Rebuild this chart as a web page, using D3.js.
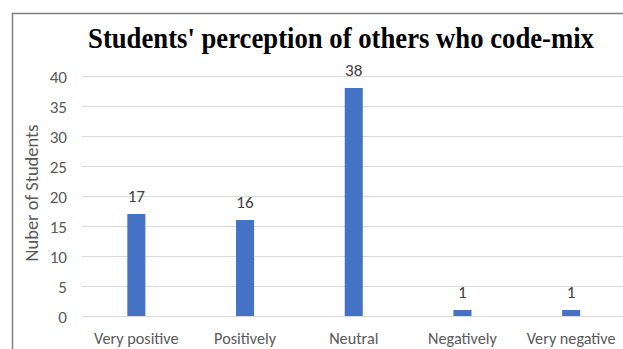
<!DOCTYPE html>
<html><head><meta charset="utf-8">
<script src="https://cdn.jsdelivr.net/npm/d3@7"></script>
<style>body{margin:0;background:#fff}svg{display:block}</style>
</head><body>
<script>
const categories = ["Very positive","Positively","Neutral","Negatively","Very negative"];
const values = [17,16,38,1,1];
const yTicks = [0,5,10,15,20,25,30,35,40];
const title = "Students' perception of others who code-mix";
const yLabel = "Nuber of Students";

const W=623,H=349;
const SANS="Carlito, Calibri, 'Liberation Sans', sans-serif";
const svg=d3.select("body").append("svg").attr("width",W).attr("height",H);
// frame
svg.append("path").attr("d",`M12.5,${H} V13.5 H${W}`).attr("fill","none").attr("stroke","#7f7f7f").attr("stroke-width",1.5);

const x=d3.scaleBand().domain(categories).range([82,625.5]).paddingInner(0.834).paddingOuter(0.417);
const y=d3.scaleLinear().domain([0,40]).range([316,76]);

// fit font size to a target width
function fit(sel, base, targetW){
  sel.attr("font-size",base);
  const w=sel.node().getComputedTextLength();
  if(w>0) sel.attr("font-size",base*targetW/w);
}

// grid
svg.append("g").selectAll("line").data(yTicks).join("line")
 .attr("x1",82).attr("x2",W).attr("y1",d=>Math.round(y(d))+0.5).attr("y2",d=>Math.round(y(d))+0.5)
 .attr("stroke","#d9d9d9").attr("stroke-width",1);

// y axis labels
const yAxis=d3.axisLeft(y).tickValues(yTicks).tickSize(0).tickPadding(0);
const gy=svg.append("g").attr("transform","translate(67,0)").call(yAxis);
gy.select(".domain").remove();
gy.selectAll("text").attr("font-family",SANS).attr("fill","#595959").attr("dy","0.35em");
const t40=gy.selectAll("text").filter(d=>d===40);
t40.attr("font-size",14);
const fsTick=14*17.4/t40.node().getComputedTextLength();
gy.selectAll("text").attr("font-size",fsTick);

// x axis
const xAxis=d3.axisBottom(x).tickSize(0).tickPadding(0);
const gx=svg.append("g").attr("transform","translate(0,344)").call(xAxis);
gx.select(".domain").remove();
gx.selectAll("text").attr("font-family",SANS).attr("fill","#595959").attr("dy","0");
const t0=gx.selectAll("text").filter(d=>d===categories[0]);
t0.attr("font-size",14);
const fsCat=14*84.5/t0.node().getComputedTextLength();
gx.selectAll("text").attr("font-size",fsCat);

// bars
svg.append("g").selectAll("rect").data(values).join("rect")
 .attr("x",(d,i)=>x(categories[i])).attr("width",x.bandwidth())
 .attr("y",d=>y(d)).attr("height",d=>y(0)-y(d)).attr("fill","#4472c4");

// value labels
svg.append("g").selectAll("text").data(values).join("text")
 .attr("x",(d,i)=>x(categories[i])+x.bandwidth()/2).attr("y",d=>y(d)-12)
 .attr("text-anchor","middle").attr("font-family",SANS)
 .attr("font-size",fsTick).attr("fill","#404040").text(d=>d);

// title (taller, slightly condensed like the reference)
const tt=svg.append("text").attr("x",0).attr("y",0).attr("text-anchor","middle")
 .attr("font-family","'Liberation Serif','Times New Roman',serif").attr("font-weight","bold")
 .attr("font-size",28.5).attr("fill","#000").text(title);
const tw=tt.node().getComputedTextLength();
tt.attr("transform",`translate(341,48) scale(${506/tw},1)`);

// y label
const yl=svg.append("text").attr("transform","translate(38,193) rotate(-90)").attr("text-anchor","middle")
 .attr("font-family",SANS).attr("fill","#595959").text(yLabel);
fit(yl,15,137);
</script>
</body></html>
